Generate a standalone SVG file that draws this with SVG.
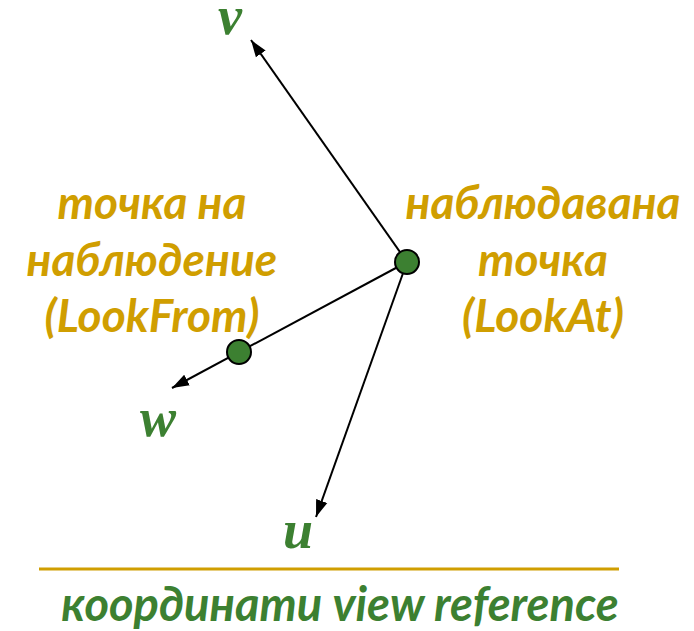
<svg xmlns="http://www.w3.org/2000/svg" width="694" height="631" viewBox="0 0 694 631">
<defs>
<style>
.lbl{font-family:Lato,"Open Sans",sans-serif;font-weight:bold;font-style:italic;font-size:46px;fill:#D09E00;text-anchor:middle}
.ax{font-family:"Liberation Serif",serif;font-weight:bold;font-style:italic;font-size:54px;fill:#3C8031;text-anchor:middle}
.cap{font-family:Lato,"Open Sans",sans-serif;font-weight:bold;font-style:italic;font-size:47px;fill:#3C8031;text-anchor:middle}
.edge{stroke:#000;stroke-width:2;fill:none}
.pt{fill:#3C8031;stroke:#000;stroke-width:2}
</style>
<marker id="arrb" viewBox="0 0 10 10" refX="10" refY="5" markerWidth="17" markerHeight="17" markerUnits="userSpaceOnUse" orient="auto">
<path d="M0,1.5 L10,5 L0,8.5 z" fill="#000"/>
</marker>
</defs>
<g id="connectors">
<line class="edge" x1="407" y1="262" x2="251" y2="40" marker-end="url(#arrb)"/>
<line class="edge" x1="407" y1="262" x2="172" y2="388" marker-end="url(#arrb)"/>
<line class="edge" x1="407" y1="262" x2="316" y2="517" marker-end="url(#arrb)"/>
</g>
<g id="lookat"><circle class="pt" cx="407" cy="262" r="12"/></g>
<g id="lookfrom"><circle class="pt" cx="239" cy="352" r="12"/></g>
<g id="label-from">
<text class="lbl" x="152" y="219">точка на</text>
<text class="lbl" x="152" y="276">наблюдение</text>
<text class="lbl" x="152" y="332">(LookFrom)</text>
</g>
<g id="label-at">
<text class="lbl" x="543" y="219">наблюдавана</text>
<text class="lbl" x="543" y="276">точка</text>
<text class="lbl" x="543" y="332">(LookAt)</text>
</g>
<g id="axis-v"><text class="ax" x="230" y="34">v</text></g>
<g id="axis-w"><text class="ax" x="158" y="436">w</text></g>
<g id="axis-u"><text class="ax" x="298" y="548">u</text></g>
<g id="caption">
<line x1="39" y1="569" x2="619" y2="569" stroke="#D09E00" stroke-width="3"/>
<text class="cap" x="340" y="621">координати view reference</text>
</g>
</svg>
